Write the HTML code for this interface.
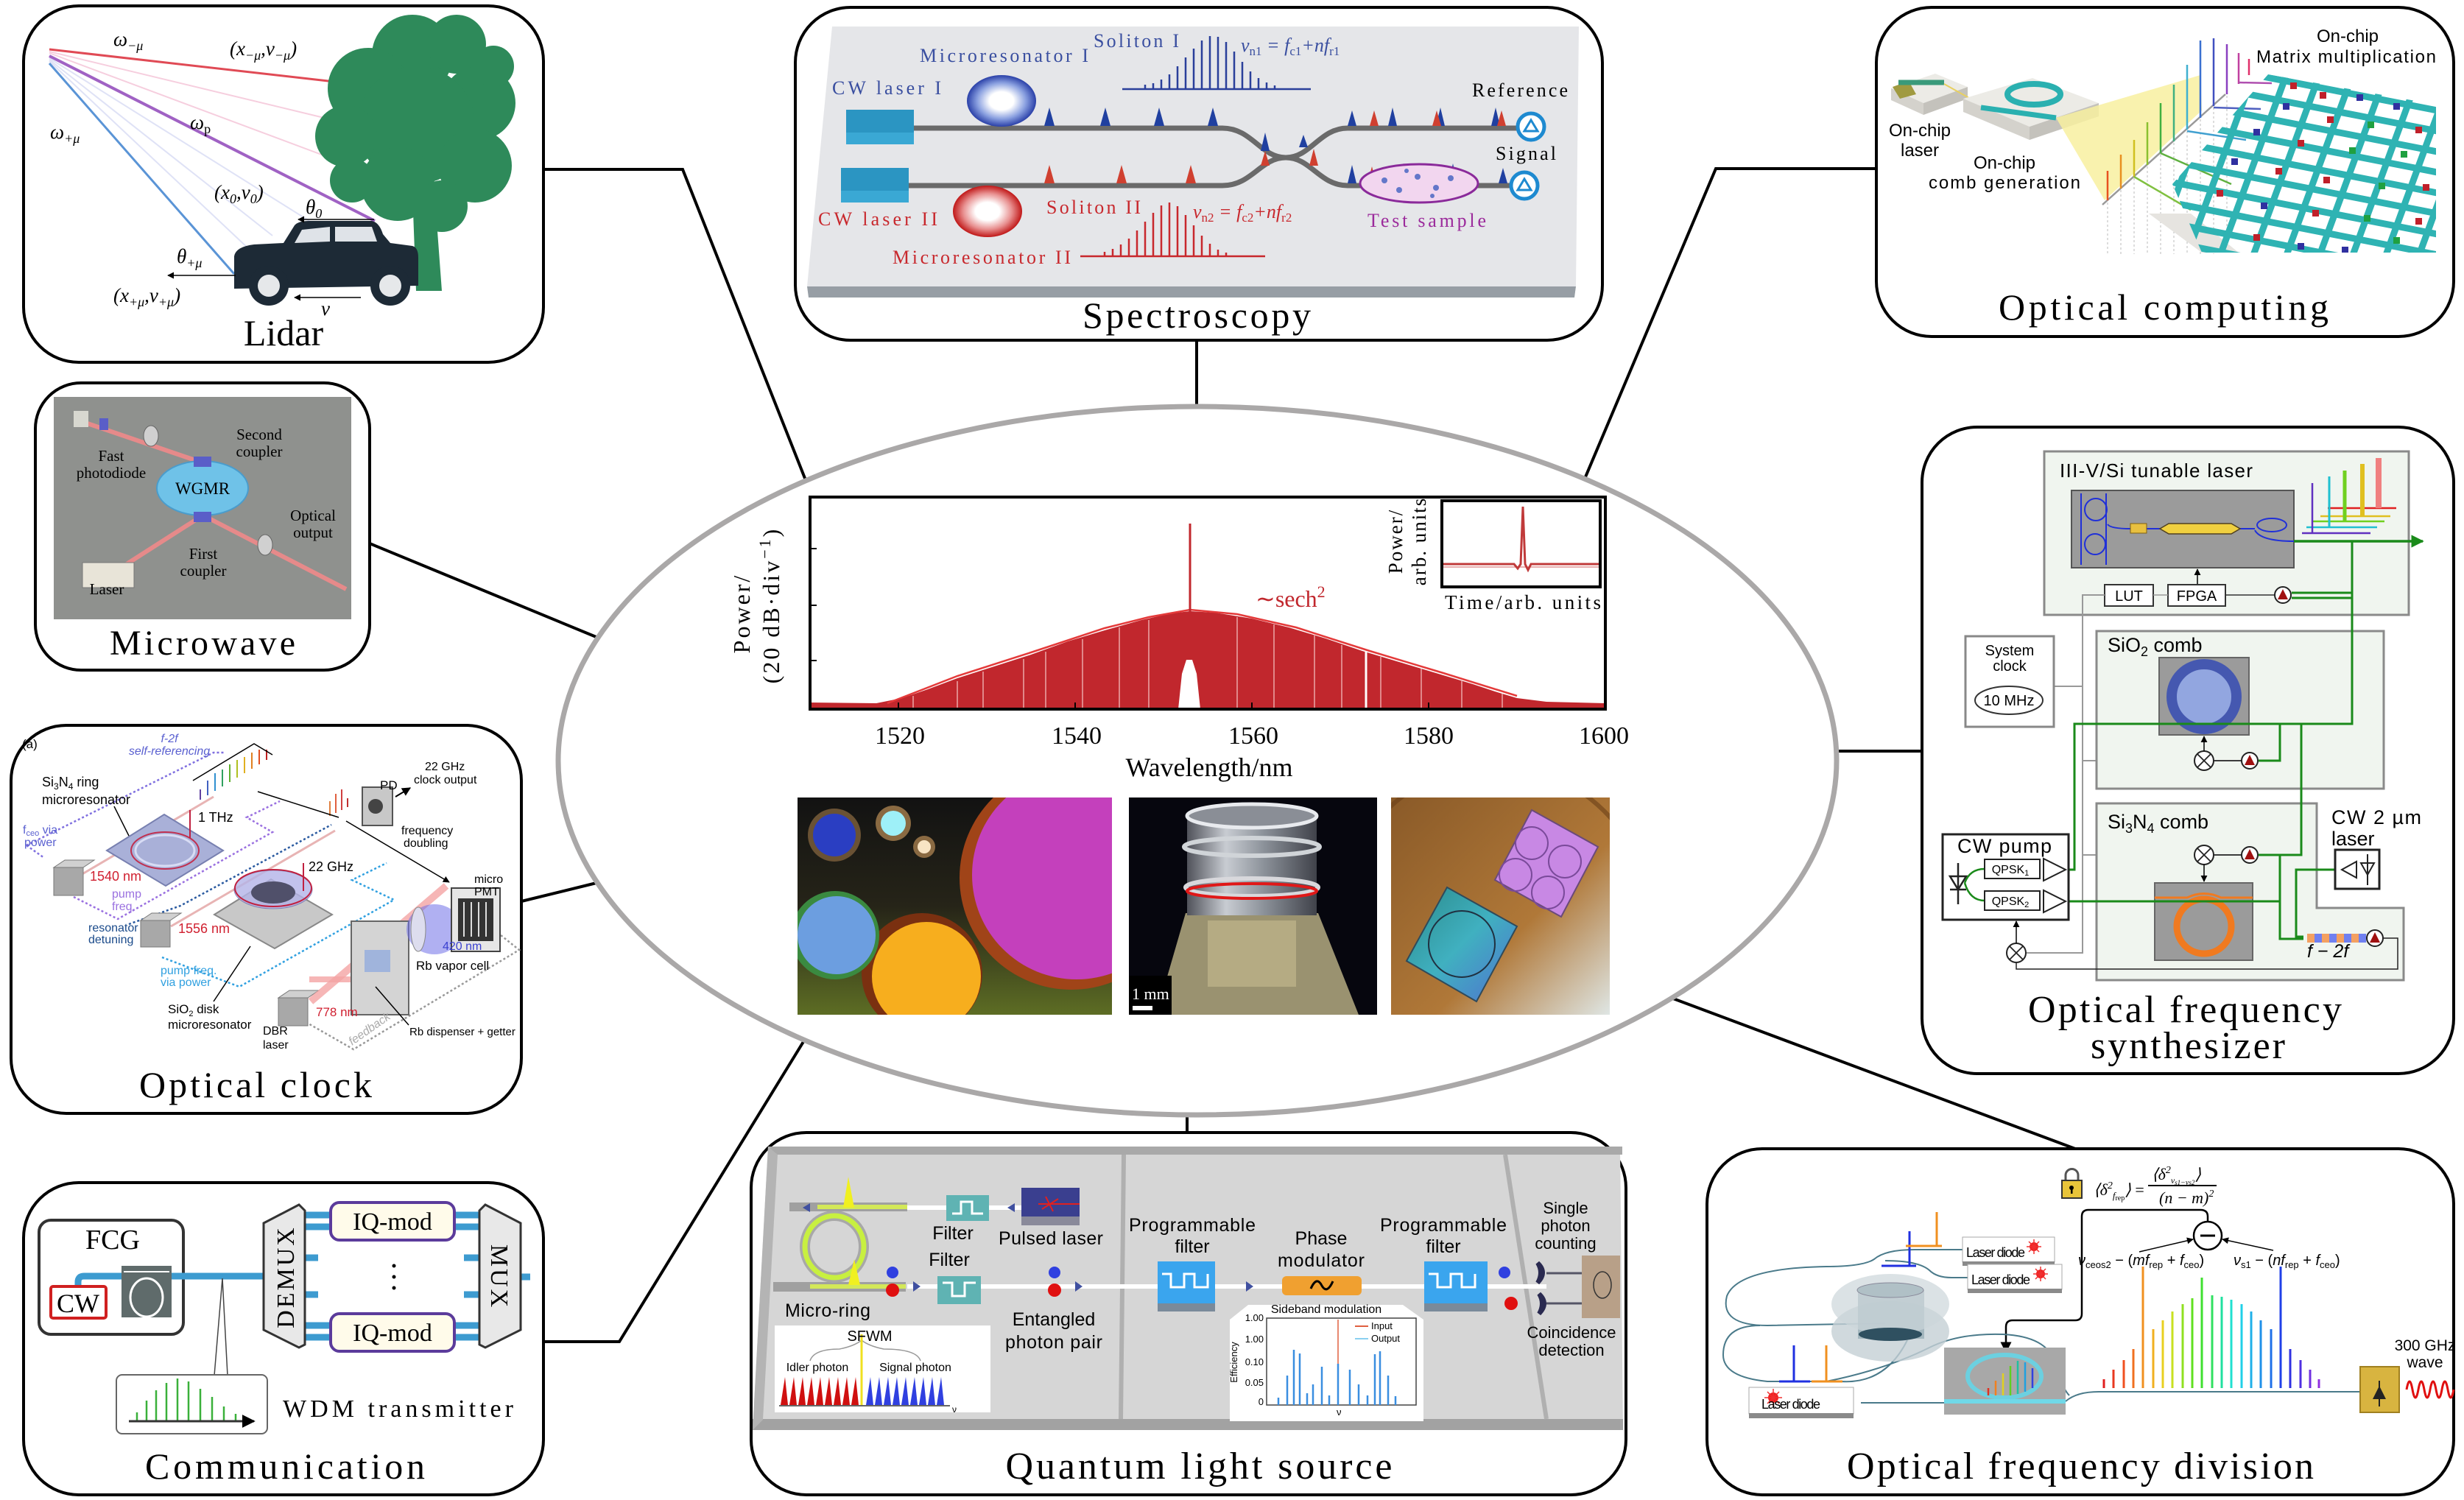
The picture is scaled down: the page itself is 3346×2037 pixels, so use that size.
<!DOCTYPE html>
<html><head><meta charset="utf-8"><style>
html,body{margin:0;padding:0;background:#fff}
svg{display:block}
.sf{font-family:"Liberation Serif",serif}
.ss{font-family:"Liberation Sans",sans-serif}
</style></head><body>
<svg xmlns="http://www.w3.org/2000/svg" width="3346" height="2037" viewBox="0 0 3346 2037">
<defs>
<marker id="ah" viewBox="0 0 10 10" refX="9" refY="5" markerWidth="6" markerHeight="6" orient="auto"><path d="M0,0 L10,5 L0,10 z" fill="#000"/></marker>
<marker id="ahg" viewBox="0 0 10 10" refX="9" refY="5" markerWidth="5" markerHeight="5" orient="auto"><path d="M0,0 L10,5 L0,10 z" fill="#1a8a1a"/></marker>
<linearGradient id="p1bg" x1="0" y1="0" x2="0" y2="1"><stop offset="0" stop-color="#121212"/><stop offset=".5" stop-color="#262418"/><stop offset="1" stop-color="#5d6d24"/></linearGradient>
<linearGradient id="p3bg" x1="0" y1="0" x2="1" y2="1"><stop offset="0" stop-color="#8a5a28"/><stop offset=".6" stop-color="#b07838"/><stop offset="1" stop-color="#dfe6e4"/></linearGradient>
<linearGradient id="teal" x1="0" y1="0" x2="1" y2="1"><stop offset="0" stop-color="#2a8a8a"/><stop offset=".5" stop-color="#40b0c0"/><stop offset="1" stop-color="#5070d0"/></linearGradient>
<linearGradient id="glass" x1="0" y1="0" x2="1" y2="0"><stop offset="0" stop-color="#50525a"/><stop offset=".3" stop-color="#c8ccd2"/><stop offset=".6" stop-color="#8a9098"/><stop offset="1" stop-color="#40424a"/></linearGradient>
<radialGradient id="mr1"><stop offset=".35" stop-color="#fff"/><stop offset=".7" stop-color="#8aa0e0"/><stop offset="1" stop-color="#2a40a8"/></radialGradient>
<radialGradient id="mr2"><stop offset=".35" stop-color="#fff"/><stop offset=".7" stop-color="#e89090"/><stop offset="1" stop-color="#c01818"/></radialGradient>
<clipPath id="c1"><rect x="1083" y="1083" width="427" height="295"/></clipPath>
<clipPath id="c2"><rect x="1533" y="1083" width="337" height="295"/></clipPath>
<clipPath id="c3"><rect x="1889" y="1083" width="297" height="295"/></clipPath>
<clipPath id="cg"><polygon points="3080,101 3308,142 3308,343 2990,343 2950,250"/></clipPath>
</defs>
<rect width="3346" height="2037" fill="#fff"/>

<!-- connectors -->
<g stroke="#000" stroke-width="4" fill="none">
<polyline points="738,230 927,230 1094,652"/>
<line x1="502" y1="738" x2="812" y2="866"/>
<line x1="708" y1="1224" x2="814" y2="1198"/>
<polyline points="738,1822 841,1822 1092,1413"/>
<line x1="1625" y1="462" x2="1625" y2="552"/>
<polyline points="2548,229 2330,229 2152,650"/>
<line x1="2495" y1="1020" x2="2610" y2="1020"/>
<line x1="1612" y1="1514" x2="1612" y2="1540"/>
<line x1="2818" y1="1560" x2="2272" y2="1356"/>
</g>

<!-- central ellipse -->
<ellipse cx="1626" cy="1033" rx="868" ry="481" fill="#fff" stroke="#aaa8a8" stroke-width="7"/>

<!-- main plot -->
<path d="M1100,962 L1100,954 L1190,955 L1225,948 L1260,936 L1300,921 L1350,905 L1400,889 L1450,871 L1500,856 L1550,842 L1590,833 L1616,830 L1650,832 L1700,840 L1750,852 L1800,867 L1850,884 L1900,899 L1950,914 L2000,929 L2030,939 L2060,948 L2100,953 L2180,955 L2180,962 Z" fill="#c1272d"/>
<g stroke="#e9a0a0" stroke-width="2" opacity=".8">
<line x1="1240" y1="945" x2="1240" y2="962"/><line x1="1300" y1="925" x2="1300" y2="962"/><line x1="1335" y1="912" x2="1335" y2="962"/>
<line x1="1390" y1="895" x2="1390" y2="962"/><line x1="1420" y1="885" x2="1420" y2="962"/><line x1="1470" y1="868" x2="1470" y2="962"/>
<line x1="1520" y1="852" x2="1520" y2="962"/><line x1="1560" y1="842" x2="1560" y2="962"/><line x1="1680" y1="838" x2="1680" y2="962"/>
<line x1="1730" y1="848" x2="1730" y2="962"/><line x1="1785" y1="862" x2="1785" y2="962"/><line x1="1822" y1="876" x2="1822" y2="962"/>
<line x1="1875" y1="892" x2="1875" y2="962"/><line x1="1930" y1="908" x2="1930" y2="962"/><line x1="1985" y1="925" x2="1985" y2="962"/>
<line x1="2040" y1="942" x2="2040" y2="962"/>
</g>
<line x1="1855" y1="880" x2="1855" y2="962" stroke="#fff" stroke-width="3"/>
<polyline points="1205,955 1300,918 1400,886 1500,853 1560,838 1616,828 1680,834 1760,852 1860,884 1960,914 2060,945" fill="none" stroke="#e43a3a" stroke-width="2.5"/>
<path d="M1600,963 L1605,915 L1611,896 L1619,896 L1625,915 L1630,963 Z" fill="#fff"/>
<line x1="1616" y1="832" x2="1616" y2="711" stroke="#c1272d" stroke-width="3"/>
<rect x="1100" y="675" width="1080" height="288" fill="none" stroke="#000" stroke-width="4"/>
<g stroke="#000" stroke-width="2">
<line x1="1220" y1="963" x2="1220" y2="954"/><line x1="1460" y1="963" x2="1460" y2="954"/><line x1="1700" y1="963" x2="1700" y2="954"/><line x1="1940" y1="963" x2="1940" y2="954"/>
<line x1="1100" y1="745" x2="1109" y2="745"/><line x1="1100" y1="822" x2="1109" y2="822"/><line x1="1100" y1="897" x2="1109" y2="897"/>
</g>
<g class="sf" font-size="34" text-anchor="middle" fill="#000">
<text x="1222" y="1010">1520</text><text x="1462" y="1010">1540</text><text x="1702" y="1010">1560</text><text x="1940" y="1010">1580</text><text x="2178" y="1010">1600</text>
<text x="1642" y="1054" font-size="36">Wavelength/nm</text>
<text transform="translate(1018,833) rotate(-90)" font-size="32" letter-spacing="3">Power/</text>
<text transform="translate(1058,822) rotate(-90)" font-size="32" letter-spacing="3">(20 dB·div<tspan font-size="22" dy="-12">−1</tspan><tspan dy="12">)</tspan></text>
</g>
<text x="1705" y="824" class="sf" font-size="32" fill="#c1272d">∼sech<tspan font-size="22" dy="-13">2</tspan></text>
<rect x="1958" y="680" width="215" height="117" fill="#fff" stroke="#000" stroke-width="4"/>
<line x1="1960" y1="770" x2="2171" y2="770" stroke="#e8b0b0" stroke-width="2"/>
<path d="M1960,766 L2056,766 L2061,772 L2065,766 L2068,688 L2071,766 L2075,774 L2079,766 L2171,766" fill="none" stroke="#c03a3a" stroke-width="3"/>
<g class="sf" font-size="27" text-anchor="middle">
<text x="2068" y="827" textLength="212">Time/arb. units</text>
<text transform="translate(1904,735) rotate(-90)" letter-spacing="2">Power/</text>
<text transform="translate(1936,735) rotate(-90)" letter-spacing="2">arb. units</text>
</g>

<!-- photos -->
<rect x="1083" y="1083" width="427" height="295" fill="url(#p1bg)"/>
<g clip-path="url(#c1)">
<circle cx="1455" cy="1192" r="152" fill="#a04418"/><circle cx="1462" cy="1188" r="142" fill="#c440bc"/>
<circle cx="1252" cy="1322" r="82" fill="#7a3010"/><circle cx="1258" cy="1326" r="74" fill="#f7ae1e"/>
<circle cx="1134" cy="1270" r="60" fill="#3a8a40"/><circle cx="1136" cy="1270" r="53" fill="#6c9ee0"/>
<circle cx="1133" cy="1134" r="36" fill="#6a5234"/><circle cx="1133" cy="1134" r="29" fill="#2a3ec2"/>
<circle cx="1213" cy="1118" r="24" fill="#8a6a42"/><circle cx="1213" cy="1118" r="17" fill="#9ef0f8"/>
<circle cx="1255" cy="1150" r="15" fill="#8a6a42"/><circle cx="1255" cy="1150" r="9" fill="#f8e4c4"/>
</g>
<rect x="1533" y="1083" width="337" height="295" fill="#06060e"/>
<g clip-path="url(#c2)">
<polygon points="1610,1240 1790,1240 1845,1378 1570,1378" fill="#9a9270"/>
<rect x="1612" y="1108" width="176" height="135" fill="url(#glass)"/>
<ellipse cx="1700" cy="1108" rx="88" ry="16" fill="#8a8e96" stroke="#e8eaee" stroke-width="5"/>
<ellipse cx="1700" cy="1150" rx="92" ry="12" fill="none" stroke="#d0d4d8" stroke-width="6"/>
<ellipse cx="1700" cy="1205" rx="90" ry="12" fill="none" stroke="#d8d8dc" stroke-width="6"/>
<ellipse cx="1700" cy="1210" rx="88" ry="10" fill="none" stroke="#e01818" stroke-width="4"/>
<rect x="1640" y="1250" width="120" height="90" fill="#c8bc90" opacity=".6"/>
</g>
<rect x="1533" y="1325" width="58" height="53" fill="#000"/>
<text x="1537" y="1357" class="sf" font-size="22" fill="#fff">1 mm</text>
<rect x="1538" y="1366" width="27" height="6" fill="#fff"/>
<rect x="1889" y="1083" width="297" height="295" fill="url(#p3bg)"/>
<g clip-path="url(#c3)">
<circle cx="2030" cy="1250" r="210" fill="none" stroke="#6a4018" stroke-width="6" opacity=".6"/>
<polygon points="2080,1100 2170,1150 2120,1245 2030,1195" fill="#c888e4" stroke="#6a4a7a" stroke-width="2"/>
<circle cx="2080" cy="1145" r="22" fill="none" stroke="#7a4a9a" stroke-width="2"/><circle cx="2125" cy="1170" r="22" fill="none" stroke="#7a4a9a" stroke-width="2"/>
<circle cx="2058" cy="1188" r="22" fill="none" stroke="#7a4a9a" stroke-width="2"/><circle cx="2102" cy="1212" r="22" fill="none" stroke="#7a4a9a" stroke-width="2"/>
<polygon points="1965,1205 2060,1258 2005,1360 1910,1305" fill="url(#teal)" stroke="#304a5a" stroke-width="2"/>
<circle cx="1985" cy="1282" r="45" fill="none" stroke="#203040" stroke-width="2"/>
</g>

<!-- ============ LIDAR ============ -->
<rect x="32" y="8" width="706" height="484" rx="75" fill="#fff" stroke="#000" stroke-width="4"/>
<g fill="none">
<line x1="67" y1="70" x2="440" y2="160" stroke="#f6cede" stroke-width="2"/>
<line x1="67" y1="72" x2="450" y2="215" stroke="#f6cede" stroke-width="2"/>
<line x1="67" y1="79" x2="420" y2="300" stroke="#dfe2f6" stroke-width="2"/>
<line x1="67" y1="81" x2="370" y2="320" stroke="#dfe2f6" stroke-width="2"/>
<line x1="67" y1="83" x2="340" y2="340" stroke="#dfe2f6" stroke-width="2"/>
<line x1="67" y1="67" x2="472" y2="113" stroke="#e04a55" stroke-width="3"/>
<line x1="67" y1="76" x2="509" y2="300" stroke="#a062c4" stroke-width="4"/>
<line x1="67" y1="86" x2="318" y2="372" stroke="#5a94d6" stroke-width="3"/>
</g>
<g fill="#2e8a5a">
<circle cx="560" cy="75" r="55"/><circle cx="620" cy="60" r="40"/><circle cx="500" cy="120" r="55"/><circle cx="650" cy="140" r="50"/>
<circle cx="565" cy="170" r="80"/><circle cx="470" cy="185" r="42"/><circle cx="645" cy="225" r="50"/><circle cx="540" cy="250" r="50"/>
<circle cx="600" cy="280" r="35"/><circle cx="478" cy="245" r="30"/><circle cx="670" cy="90" r="28"/>
<polygon points="560,260 590,260 600,395 565,395"/>
</g>
<path d="M318,392 L318,348 Q320,335 345,332 L385,330 L400,306 Q405,300 420,300 L505,300 Q515,302 520,318 L530,330 L560,334 Q568,336 568,350 L568,388 Z" fill="#1d2a36"/>
<polygon points="410,312 448,308 448,328 400,330" fill="#dfe3e8"/><polygon points="455,308 505,308 512,328 455,328" fill="#dfe3e8"/>
<circle cx="365" cy="388" r="27" fill="#1d2a36"/><circle cx="365" cy="388" r="15" fill="#e6e8ea"/>
<circle cx="530" cy="388" r="27" fill="#1d2a36"/><circle cx="530" cy="388" r="15" fill="#e6e8ea"/>
<g stroke="#000" stroke-width="1.5" fill="none">
<line x1="320" y1="374" x2="228" y2="374" marker-end="url(#ah)"/>
<line x1="490" y1="404" x2="400" y2="404" marker-end="url(#ah)"/>
<line x1="508" y1="298" x2="405" y2="298" marker-end="url(#ah)"/>
</g>
<g class="sf" font-size="27" font-style="italic">
<text x="154" y="62">ω<tspan font-size="18" dy="6">−μ</tspan></text>
<text x="312" y="75">(x<tspan font-size="18" dy="6">−μ</tspan><tspan dy="-6">,v</tspan><tspan font-size="18" dy="6">−μ</tspan><tspan dy="-6">)</tspan></text>
<text x="258" y="175">ω<tspan font-size="18" dy="6" font-style="normal">p</tspan></text>
<text x="68" y="188">ω<tspan font-size="18" dy="6">+μ</tspan></text>
<text x="291" y="270">(x<tspan font-size="18" dy="6">0</tspan><tspan dy="-6">,v</tspan><tspan font-size="18" dy="6">0</tspan><tspan dy="-6">)</tspan></text>
<text x="415" y="290">θ<tspan font-size="18" dy="6">0</tspan></text>
<text x="240" y="357">θ<tspan font-size="18" dy="6">+μ</tspan></text>
<text x="154" y="410">(x<tspan font-size="18" dy="6">+μ</tspan><tspan dy="-6">,v</tspan><tspan font-size="18" dy="6">+μ</tspan><tspan dy="-6">)</tspan></text>
<text x="436" y="428">v</text>
</g>
<text x="385" y="469" class="sf" font-size="50" text-anchor="middle">Lidar</text>

<!-- ============ MICROWAVE ============ -->
<rect x="48" y="520" width="454" height="390" rx="62" fill="#fff" stroke="#000" stroke-width="4"/>
<rect x="73" y="539" width="404" height="302" fill="#8f918e"/>
<g stroke="#f08a8a" stroke-width="6" opacity=".9">
<line x1="110" y1="572" x2="268" y2="626"/>
<line x1="150" y1="780" x2="272" y2="702"/>
<line x1="280" y1="702" x2="470" y2="800"/>
</g>
<ellipse cx="275" cy="663" rx="62" ry="37" fill="#6fc2e8" stroke="#4a9ccc" stroke-width="2"/>
<rect x="263" y="620" width="24" height="14" fill="#5a5ec8"/><rect x="263" y="695" width="24" height="14" fill="#5a5ec8"/>
<rect x="100" y="558" width="20" height="22" fill="#d8d8d0"/><rect x="135" y="568" width="12" height="16" fill="#5a5ec8"/>
<ellipse cx="205" cy="592" rx="10" ry="14" fill="#d0d0d0" stroke="#666"/><ellipse cx="360" cy="740" rx="10" ry="14" fill="#d0d0d0" stroke="#666"/>
<rect x="112" y="764" width="70" height="34" fill="#e8e4d8" stroke="#777"/>
<g class="sf" font-size="21" text-anchor="middle">
<text x="352" y="597">Second</text><text x="352" y="620">coupler</text>
<text x="151" y="626">Fast</text><text x="151" y="649">photodiode</text>
<text x="275" y="671" font-size="23">WGMR</text>
<text x="425" y="707">Optical</text><text x="425" y="730">output</text>
<text x="276" y="759">First</text><text x="276" y="782">coupler</text>
<text x="145" y="807">Laser</text>
</g>
<text x="275" y="889" class="sf" font-size="48" text-anchor="middle" textLength="252">Microwave</text>

<!-- ============ OPTICAL CLOCK ============ -->
<rect x="15" y="985" width="693" height="527" rx="75" fill="#fff" stroke="#000" stroke-width="4"/>
<g fill="none" stroke-width="2.5" stroke-dasharray="3,3">
<polyline points="36,1148 60,1165" stroke="#8070e0"/>
<polyline points="36,1148 290,1022 305,1022" stroke="#8070e0"/>
<polyline points="100,1218 160,1248 370,1130 335,1110 380,1088" stroke="#9a70e0"/>
<polyline points="175,1255 245,1230 450,1120" stroke="#2a5aa0"/>
<polyline points="220,1300 325,1340 535,1222 478,1195 525,1172" stroke="#30a0e0"/>
<polyline points="410,1385 480,1425 705,1290 680,1270" stroke="#999"/>
</g>
<g stroke="#e8b4b4" stroke-width="3">
<line x1="110" y1="1188" x2="290" y2="1082"/><line x1="232" y1="1258" x2="455" y2="1128"/>
</g>
<polygon points="145,1155 223,1106 303,1155 225,1203" fill="#a9b0d8" stroke="#7880b0" stroke-width="2"/>
<ellipse cx="224" cy="1155" rx="46" ry="25" fill="none" stroke="#c03050" stroke-width="2"/>
<ellipse cx="224" cy="1155" rx="40" ry="21" fill="none" stroke="#d8dcf4" stroke-width="3"/>
<polygon points="291,1242 368,1194 451,1242 373,1288" fill="#c8c8c8" stroke="#888" stroke-width="2"/>
<ellipse cx="371" cy="1208" rx="53" ry="26" fill="#b4b4e8" opacity=".8" stroke="#7070b0"/>
<ellipse cx="371" cy="1212" rx="30" ry="15" fill="#50506a"/>
<ellipse cx="371" cy="1206" rx="52" ry="25" fill="none" stroke="#c02040" stroke-width="2"/>
<line x1="258" y1="1138" x2="258" y2="1100" stroke="#c02040" stroke-width="2"/>
<line x1="412" y1="1210" x2="412" y2="1172" stroke="#c02040" stroke-width="2"/>
<g fill="#a8a8a8" stroke="#777">
<rect x="73" y="1178" width="40" height="38"/><polygon points="73,1178 88,1168 128,1168 113,1178" fill="#d0d0d0"/>
<rect x="191" y="1250" width="40" height="36"/><polygon points="191,1250 206,1240 246,1240 231,1250" fill="#d0d0d0"/>
<rect x="378" y="1355" width="40" height="38"/><polygon points="378,1355 393,1345 433,1345 418,1355" fill="#d0d0d0"/>
</g>
<g stroke-width="2">
<line x1="272" y1="1086" x2="272" y2="1072" stroke="#6040a0"/><line x1="282" y1="1080" x2="282" y2="1060" stroke="#4060c0"/>
<line x1="292" y1="1074" x2="292" y2="1050" stroke="#3090d0"/><line x1="302" y1="1068" x2="302" y2="1045" stroke="#30a060"/>
<line x1="312" y1="1062" x2="312" y2="1038" stroke="#60b030"/><line x1="322" y1="1056" x2="322" y2="1032" stroke="#b0c020"/>
<line x1="332" y1="1050" x2="332" y2="1028" stroke="#e0b020"/><line x1="342" y1="1044" x2="342" y2="1022" stroke="#e08020"/>
<line x1="352" y1="1038" x2="352" y2="1018" stroke="#e05020"/><line x1="362" y1="1032" x2="362" y2="1018" stroke="#c02020"/>
<line x1="448" y1="1108" x2="448" y2="1088" stroke="#e08040"/><line x1="456" y1="1104" x2="456" y2="1078" stroke="#e06040"/>
<line x1="464" y1="1100" x2="464" y2="1072" stroke="#d04040"/><line x1="472" y1="1096" x2="472" y2="1084" stroke="#c03030"/>
</g>
<polyline points="262,1060 345,1010 370,1025" fill="none" stroke="#000" stroke-width="1.5"/>
<line x1="350" y1="1075" x2="460" y2="1110" stroke="#000" stroke-width="1.5"/>
<line x1="470" y1="1115" x2="610" y2="1198" stroke="#000" stroke-width="1.5" marker-end="url(#ah)"/>
<rect x="492" y="1069" width="41" height="52" fill="#c8c8c8" stroke="#555" stroke-width="2"/>
<circle cx="510" cy="1095" r="10" fill="#444"/>
<line x1="537" y1="1082" x2="557" y2="1070" stroke="#000" stroke-width="2" marker-end="url(#ah)"/>
<line x1="422" y1="1360" x2="606" y2="1203" stroke="#f4a4a4" stroke-width="10" opacity=".8"/>
<line x1="420" y1="1330" x2="500" y2="1330" stroke="#f4a4a4" stroke-width="8" opacity=".8"/>
<rect x="477" y="1251" width="78" height="127" fill="#d4d4d4" stroke="#666" stroke-width="2"/>
<rect x="495" y="1290" width="35" height="30" fill="#a0b4dc"/>
<ellipse cx="590" cy="1262" rx="38" ry="34" fill="#7070e8" opacity=".55"/>
<ellipse cx="568" cy="1262" rx="10" ry="30" fill="#dde" stroke="#888"/>
<rect x="613" y="1206" width="66" height="86" fill="#e6e6e6" stroke="#444" stroke-width="2"/>
<rect x="622" y="1220" width="48" height="58" fill="#333"/>
<g stroke="#ddd" stroke-width="2"><line x1="630" y1="1225" x2="630" y2="1272"/><line x1="640" y1="1225" x2="640" y2="1272"/><line x1="650" y1="1225" x2="650" y2="1272"/><line x1="660" y1="1225" x2="660" y2="1272"/></g>
<g class="ss" font-size="16" fill="#000">
<text x="30" y="1016" font-size="17">(a)</text>
<text x="230" y="1008" fill="#5a60d0" font-style="italic" text-anchor="middle">f-2f</text>
<text x="230" y="1025" fill="#5a60d0" font-style="italic" text-anchor="middle">self-referencing</text>
<text x="57" y="1068" font-size="18">Si<tspan font-size="12" dy="4">3</tspan><tspan dy="-4">N</tspan><tspan font-size="12" dy="4">4</tspan><tspan dy="-4"> ring</tspan></text>
<text x="57" y="1092" font-size="18">microresonator</text>
<text x="269" y="1116" font-size="18">1 THz</text>
<text x="577" y="1046">22 GHz</text><text x="562" y="1064">clock output</text>
<text x="516" y="1072" font-size="17">PD</text>
<text x="31" y="1132" fill="#5a60d0">f<tspan font-size="11" dy="3">ceo</tspan><tspan dy="-3"> via</tspan></text>
<text x="33" y="1149" fill="#5a60d0">power</text>
<text x="122" y="1196" fill="#d02030" font-size="18">1540 nm</text>
<text x="152" y="1219" fill="#9a70e0">pump</text><text x="152" y="1236" fill="#9a70e0">freq.</text>
<text x="419" y="1183" font-size="18">22 GHz</text>
<text x="545" y="1133">frequency</text><text x="548" y="1150">doubling</text>
<text x="644" y="1199">micro</text><text x="644" y="1216">PMT</text>
<text x="120" y="1265" fill="#1a4a8a">resonator</text><text x="120" y="1281" fill="#1a4a8a">detuning</text>
<text x="242" y="1267" fill="#d02030" font-size="18">1556 nm</text>
<text x="601" y="1290" fill="#3a40d0">420 nm</text>
<text x="565" y="1317" font-size="17">Rb vapor cell</text>
<text x="218" y="1323" fill="#30a0e0">pump freq.</text><text x="218" y="1339" fill="#30a0e0">via power</text>
<text x="228" y="1376" font-size="17">SiO<tspan font-size="11" dy="4">2</tspan><tspan dy="-4"> disk</tspan></text>
<text x="228" y="1397" font-size="17">microresonator</text>
<text x="357" y="1405">DBR</text><text x="357" y="1424">laser</text>
<text x="429" y="1380" fill="#d02030" font-size="17">778 nm</text>
<text transform="translate(478,1420) rotate(-35)" fill="#aaa" font-style="italic">feedback</text>
<text x="556" y="1406" font-size="15">Rb dispenser + getter</text>
</g>
<line x1="155" y1="1095" x2="175" y2="1135" stroke="#000" stroke-width="1.5"/>
<line x1="290" y1="1360" x2="340" y2="1285" stroke="#000" stroke-width="1.5"/>
<line x1="555" y1="1392" x2="510" y2="1340" stroke="#000" stroke-width="1.5"/>
<text x="347" y="1490" class="sf" font-size="50" text-anchor="middle" textLength="316">Optical clock</text>

<!-- ============ COMMUNICATION ============ -->
<rect x="32" y="1606" width="706" height="424" rx="75" fill="#fff" stroke="#000" stroke-width="4"/>
<rect x="53" y="1657" width="196" height="155" rx="16" fill="#fff" stroke="#333" stroke-width="4"/>
<text x="153" y="1696" class="sf" font-size="38" text-anchor="middle">FCG</text>
<path d="M106,1748 V1741 Q106,1733 114,1733 H168" stroke="#3d9bd0" stroke-width="9" fill="none"/>
<rect x="165" y="1719" width="68" height="70" fill="#5f6b6b"/>
<ellipse cx="199" cy="1762" rx="22" ry="26" fill="none" stroke="#fff" stroke-width="3"/>
<line x1="168" y1="1727" x2="230" y2="1727" stroke="#fff" stroke-width="2"/>
<rect x="69" y="1747" width="75" height="43" rx="3" fill="#fff" stroke="#d02020" stroke-width="4"/>
<text x="106" y="1782" class="sf" font-size="36" text-anchor="middle">CW</text>
<line x1="233" y1="1733" x2="360" y2="1733" stroke="#3d9bd0" stroke-width="9"/>
<g stroke="#3d9bd0" stroke-width="9">
<line x1="414" y1="1650" x2="450" y2="1650"/><line x1="414" y1="1666" x2="450" y2="1666"/>
<line x1="414" y1="1800" x2="450" y2="1800"/><line x1="414" y1="1816" x2="450" y2="1816"/>
<line x1="414" y1="1708" x2="432" y2="1708"/><line x1="414" y1="1758" x2="432" y2="1758"/>
<line x1="616" y1="1650" x2="650" y2="1650"/><line x1="616" y1="1666" x2="650" y2="1666"/>
<line x1="616" y1="1800" x2="650" y2="1800"/><line x1="616" y1="1816" x2="650" y2="1816"/>
<line x1="630" y1="1708" x2="650" y2="1708"/><line x1="630" y1="1758" x2="650" y2="1758"/>
<line x1="706" y1="1734" x2="720" y2="1734"/>
</g>
<polygon points="358,1661 406,1636 414,1644 414,1826 406,1830 358,1806" fill="#e8e8e8" stroke="#333" stroke-width="3"/>
<polygon points="707,1661 659,1636 651,1644 651,1826 659,1830 707,1806" fill="#e8e8e8" stroke="#333" stroke-width="3"/>
<text transform="translate(399,1734) rotate(-90)" class="sf" font-size="34" text-anchor="middle" letter-spacing="3">DEMUX</text>
<text transform="translate(667,1734) rotate(90)" class="sf" font-size="34" text-anchor="middle" letter-spacing="3">MUX</text>
<rect x="449" y="1633" width="168" height="51" rx="12" fill="#fffbea" stroke="#5b3b9b" stroke-width="4"/>
<rect x="449" y="1784" width="168" height="51" rx="12" fill="#fffbea" stroke="#5b3b9b" stroke-width="4"/>
<text x="533" y="1670" class="sf" font-size="34" text-anchor="middle">IQ-mod</text>
<text x="533" y="1821" class="sf" font-size="34" text-anchor="middle">IQ-mod</text>
<circle cx="535" cy="1719" r="2.5"/><circle cx="535" cy="1734" r="2.5"/><circle cx="535" cy="1749" r="2.5"/>
<polyline points="291,1868 302,1736 309,1868" fill="none" stroke="#444" stroke-width="1.5"/>
<rect x="158" y="1867" width="205" height="80" rx="8" fill="#fff" stroke="#666" stroke-width="2"/>
<g stroke="#3ab03a" stroke-width="2.5">
<line x1="186" y1="1930" x2="186" y2="1918"/><line x1="199" y1="1930" x2="199" y2="1902"/><line x1="212" y1="1930" x2="212" y2="1888"/>
<line x1="226" y1="1930" x2="226" y2="1878"/><line x1="241" y1="1930" x2="241" y2="1872"/><line x1="256" y1="1930" x2="256" y2="1876"/>
<line x1="272" y1="1930" x2="272" y2="1886"/><line x1="288" y1="1930" x2="288" y2="1897"/><line x1="304" y1="1930" x2="304" y2="1910"/>
<line x1="320" y1="1930" x2="320" y2="1920"/>
</g>
<line x1="175" y1="1930" x2="345" y2="1930" stroke="#333" stroke-width="3" marker-end="url(#ah)"/>
<text x="384" y="1924" class="sf" font-size="34" textLength="313">WDM transmitter</text>
<text x="387" y="2008" class="sf" font-size="50" text-anchor="middle" textLength="380">Communication</text>

<!-- ============ SPECTROSCOPY ============ -->
<rect x="1080" y="10" width="1096" height="452" rx="75" fill="#fff" stroke="#000" stroke-width="4"/>
<polygon points="1130,36 2144,36 2140,389 1096,389" fill="#e5e6e9"/>
<polygon points="1096,389 2140,389 2138,404 1098,404" fill="#979ea5"/>
<path d="M1241,174 H1660 C1700,174 1712,214 1746,214 C1780,214 1792,174 1830,174 H2062" fill="none" stroke="#6a6a6a" stroke-width="7"/>
<path d="M1234,252 H1660 C1700,252 1712,214 1746,214 C1780,214 1792,252 1830,252 H2062" fill="none" stroke="#6a6a6a" stroke-width="7"/>
<rect x="1149" y="149" width="92" height="47" fill="#2b95c2"/><rect x="1149" y="180" width="92" height="16" fill="#3aa8d4"/>
<rect x="1142" y="228" width="92" height="47" fill="#2b95c2"/><rect x="1142" y="259" width="92" height="16" fill="#3aa8d4"/>
<ellipse cx="1360" cy="137" rx="47" ry="35" fill="url(#mr1)"/>
<ellipse cx="1341" cy="287" rx="47" ry="35" fill="url(#mr2)"/>
<g fill="#2040a0">
<polygon points="1418,171 1425,146 1432,171"/><polygon points="1494,171 1501,146 1508,171"/><polygon points="1567,171 1574,146 1581,171"/><polygon points="1640,171 1647,146 1654,171"/>
<polygon points="1712,205 1718,180 1724,205"/><polygon points="1764,200 1770,183 1776,200"/>
<polygon points="1830,171 1836,150 1842,171"/><polygon points="1885,171 1891,146 1897,171"/><polygon points="1950,171 1956,146 1962,171"/><polygon points="2025,171 2031,146 2037,171"/>
<polygon points="1830,249 1836,224 1842,249"/><polygon points="1900,249 1906,222 1912,249"/><polygon points="1967,249 1973,222 1979,249"/><polygon points="2035,249 2041,228 2047,249"/>
</g>
<g fill="#d04030">
<polygon points="1418,249 1425,224 1432,249"/><polygon points="1516,249 1523,224 1530,249"/><polygon points="1610,249 1617,224 1624,249"/>
<polygon points="1712,225 1718,205 1724,225"/><polygon points="1778,225 1784,202 1790,225"/>
<polygon points="1860,171 1866,150 1872,171"/><polygon points="1945,171 1951,150 1957,171"/><polygon points="2033,171 2039,150 2045,171"/>
<polygon points="1857,249 1863,226 1869,249"/><polygon points="1960,249 1966,226 1972,249"/>
</g>
<ellipse cx="1927" cy="249" rx="80" ry="26" fill="#f2d6ef" stroke="#8a2a9a" stroke-width="3"/>
<g fill="#4060c0" opacity=".8"><circle cx="1880" cy="245" r="4"/><circle cx="1900" cy="258" r="4"/><circle cx="1925" cy="240" r="4"/><circle cx="1950" cy="255" r="4"/><circle cx="1970" cy="242" r="4"/><circle cx="1910" cy="232" r="3"/><circle cx="1945" cy="266" r="3"/></g>
<circle cx="2079" cy="172" r="18" fill="#fff" stroke="#1e8ad0" stroke-width="5"/><path d="M2070,178 L2079,163 L2088,178 Z" fill="none" stroke="#1e8ad0" stroke-width="3"/>
<circle cx="2070" cy="252" r="18" fill="#fff" stroke="#1e8ad0" stroke-width="5"/><path d="M2061,258 L2070,243 L2079,258 Z" fill="none" stroke="#1e8ad0" stroke-width="3"/>
<g stroke="#2a3f9a" stroke-width="2.5">
<line x1="1524" y1="121" x2="1780" y2="121"/>
<line x1="1555" y1="121" x2="1555" y2="115"/><line x1="1566" y1="121" x2="1566" y2="113"/><line x1="1577" y1="121" x2="1577" y2="108"/><line x1="1588" y1="121" x2="1588" y2="101"/>
<line x1="1599" y1="121" x2="1599" y2="90"/><line x1="1610" y1="121" x2="1610" y2="78"/><line x1="1621" y1="121" x2="1621" y2="66"/><line x1="1632" y1="121" x2="1632" y2="55"/>
<line x1="1643" y1="121" x2="1643" y2="49"/><line x1="1654" y1="121" x2="1654" y2="50"/><line x1="1665" y1="121" x2="1665" y2="57"/><line x1="1676" y1="121" x2="1676" y2="70"/>
<line x1="1687" y1="121" x2="1687" y2="84"/><line x1="1698" y1="121" x2="1698" y2="97"/><line x1="1709" y1="121" x2="1709" y2="106"/><line x1="1720" y1="121" x2="1720" y2="112"/><line x1="1731" y1="121" x2="1731" y2="116"/>
</g>
<g stroke="#c8282d" stroke-width="2.5">
<line x1="1467" y1="348" x2="1718" y2="348"/>
<line x1="1500" y1="348" x2="1500" y2="342"/><line x1="1511" y1="348" x2="1511" y2="338"/><line x1="1522" y1="348" x2="1522" y2="332"/><line x1="1533" y1="348" x2="1533" y2="324"/>
<line x1="1544" y1="348" x2="1544" y2="313"/><line x1="1555" y1="348" x2="1555" y2="301"/><line x1="1566" y1="348" x2="1566" y2="289"/><line x1="1577" y1="348" x2="1577" y2="279"/>
<line x1="1588" y1="348" x2="1588" y2="275"/><line x1="1599" y1="348" x2="1599" y2="280"/><line x1="1610" y1="348" x2="1610" y2="292"/><line x1="1621" y1="348" x2="1621" y2="306"/>
<line x1="1632" y1="348" x2="1632" y2="320"/><line x1="1643" y1="348" x2="1643" y2="331"/><line x1="1654" y1="348" x2="1654" y2="339"/><line x1="1665" y1="348" x2="1665" y2="343"/>
</g>
<g class="sf" font-size="26">
<text x="1249" y="84" fill="#3a4fa0" textLength="229">Microresonator I</text>
<text x="1485" y="64" fill="#3a4fa0" textLength="116">Soliton I</text>
<text x="1685" y="70" fill="#3a4fa0" font-style="italic">ν<tspan font-size="17" dy="5" font-style="normal">n1</tspan><tspan dy="-5"> = f</tspan><tspan font-size="17" dy="5" font-style="normal">c1</tspan><tspan dy="-5">+nf</tspan><tspan font-size="17" dy="5" font-style="normal">r1</tspan></text>
<text x="1130" y="128" fill="#3a4fa0" textLength="148">CW laser I</text>
<text x="1999" y="131" fill="#000" textLength="130">Reference</text>
<text x="2031" y="217" fill="#000" textLength="82">Signal</text>
<text x="1111" y="306" fill="#c8282d" textLength="162">CW laser II</text>
<text x="1421" y="290" fill="#c8282d" textLength="128">Soliton II</text>
<text x="1620" y="296" fill="#c8282d" font-style="italic">ν<tspan font-size="17" dy="5" font-style="normal">n2</tspan><tspan dy="-5"> = f</tspan><tspan font-size="17" dy="5" font-style="normal">c2</tspan><tspan dy="-5">+nf</tspan><tspan font-size="17" dy="5" font-style="normal">r2</tspan></text>
<text x="1857" y="308" fill="#9b2a9b" textLength="161">Test sample</text>
<text x="1212" y="358" fill="#c8282d" textLength="242">Microresonator II</text>
</g>
<text x="1625" y="445" class="sf" font-size="50" text-anchor="middle" textLength="310">Spectroscopy</text>

<!-- ============ OPTICAL COMPUTING ============ -->
<rect x="2548" y="10" width="784" height="447" rx="75" fill="#fff" stroke="#000" stroke-width="4"/>
<polygon points="2568,120 2628,100 2672,118 2612,140" fill="#ecebe6"/>
<polygon points="2568,120 2612,140 2612,156 2568,136" fill="#d4d2cc"/><polygon points="2612,140 2672,118 2672,134 2612,156" fill="#c4c2bc"/>
<polygon points="2570,118 2592,110 2602,128 2580,134" fill="#a09a40"/>
<line x1="2578" y1="112" x2="2640" y2="112" stroke="#3a9a7a" stroke-width="7"/>
<line x1="2640" y1="114" x2="2690" y2="142" stroke="#e8d060" stroke-width="2"/>
<polygon points="2666,134 2760,106 2850,140 2756,172" fill="#ecebe6"/>
<polygon points="2666,134 2756,172 2756,190 2666,152" fill="#d4d2cc"/><polygon points="2756,172 2850,140 2850,158 2756,190" fill="#c4c2bc"/>
<ellipse cx="2762" cy="128" rx="36" ry="14" fill="none" stroke="#2ab0b0" stroke-width="8"/>
<line x1="2690" y1="146" x2="2792" y2="160" stroke="#2ab0b0" stroke-width="7"/>
<polygon points="2792,160 2988,102 2990,150 2858,272" fill="#f8f0a0" opacity=".85"/>
<g stroke="#bbb" stroke-width="1" stroke-dasharray="3,3">
<line x1="2862" y1="275" x2="2862" y2="345"/><line x1="2880" y1="258" x2="2880" y2="345"/><line x1="2898" y1="242" x2="2898" y2="345"/><line x1="2916" y1="226" x2="2916" y2="345"/>
<line x1="2934" y1="210" x2="2934" y2="345"/><line x1="2952" y1="194" x2="2952" y2="345"/><line x1="2970" y1="178" x2="2970" y2="345"/><line x1="2988" y1="162" x2="2988" y2="345"/>
<line x1="3006" y1="146" x2="3006" y2="345"/><line x1="3024" y1="130" x2="3024" y2="345"/>
</g>
<g stroke-width="2.5">
<line x1="2855" y1="278" x2="3022" y2="128" stroke="#999"/>
<line x1="2862" y1="272" x2="2862" y2="232" stroke="#e85020"/><line x1="2880" y1="256" x2="2880" y2="210" stroke="#e89020"/>
<line x1="2898" y1="240" x2="2898" y2="190" stroke="#d0c020"/><line x1="2916" y1="224" x2="2916" y2="166" stroke="#8ac030"/>
<line x1="2934" y1="208" x2="2934" y2="140" stroke="#40b040"/><line x1="2952" y1="192" x2="2952" y2="115" stroke="#40b080"/>
<line x1="2970" y1="176" x2="2970" y2="88" stroke="#40b0d0"/><line x1="2988" y1="160" x2="2988" y2="55" stroke="#3a70d0"/>
<line x1="3006" y1="144" x2="3006" y2="52" stroke="#4050c0"/><line x1="3024" y1="128" x2="3024" y2="60" stroke="#8a40c0"/>
<line x1="3040" y1="114" x2="3040" y2="72" stroke="#c040a0"/><line x1="3054" y1="102" x2="3054" y2="80" stroke="#e0306a"/>
<line x1="3040" y1="112" x2="3085" y2="113" stroke="#b050b0"/><line x1="3006" y1="146" x2="3070" y2="148" stroke="#5060c0"/>
<line x1="2970" y1="178" x2="3050" y2="190" stroke="#40a0d0"/><line x1="2934" y1="208" x2="3030" y2="250" stroke="#60b040"/>
<line x1="2898" y1="240" x2="2975" y2="285" stroke="#80c040"/>
</g>
<polygon points="2918,290 2975,290 3040,343 2990,343" fill="#e6e4e0"/>
<g clip-path="url(#cg)" stroke="#2fb3b3" stroke-width="9">
<line x1="2950" y1="80" x2="3320" y2="152"/><line x1="2930" y1="104" x2="3320" y2="180"/><line x1="2910" y1="128" x2="3320" y2="208"/>
<line x1="2890" y1="152" x2="3320" y2="236"/><line x1="2870" y1="176" x2="3320" y2="264"/><line x1="2850" y1="200" x2="3320" y2="292"/>
<line x1="2830" y1="224" x2="3320" y2="320"/><line x1="2810" y1="248" x2="3320" y2="348"/><line x1="2790" y1="272" x2="3320" y2="376"/>
<line x1="2800" y1="300" x2="3320" y2="402"/>
<line x1="3030" y1="60" x2="2920" y2="360"/><line x1="3075" y1="60" x2="2965" y2="360"/><line x1="3120" y1="60" x2="3010" y2="360"/>
<line x1="3165" y1="60" x2="3055" y2="360"/><line x1="3210" y1="60" x2="3100" y2="360"/><line x1="3255" y1="60" x2="3145" y2="360"/>
<line x1="3300" y1="60" x2="3190" y2="360"/><line x1="3345" y1="60" x2="3235" y2="360"/><line x1="3390" y1="60" x2="3280" y2="360"/>
</g>
<g clip-path="url(#cg)">
<rect x="3110" y="112" width="9" height="9" fill="#c0202a"/><rect x="3150" y="125" width="9" height="9" fill="#c0202a"/><rect x="3200" y="128" width="9" height="9" fill="#3030a0"/>
<rect x="3250" y="140" width="9" height="9" fill="#3030a0"/><rect x="3100" y="140" width="9" height="9" fill="#3030a0"/><rect x="3160" y="158" width="9" height="9" fill="#c0202a"/>
<rect x="3215" y="165" width="9" height="9" fill="#20a040"/><rect x="3280" y="172" width="9" height="9" fill="#c0202a"/><rect x="3060" y="175" width="9" height="9" fill="#3030a0"/>
<rect x="3120" y="190" width="9" height="9" fill="#c0202a"/><rect x="3190" y="200" width="9" height="9" fill="#20a040"/><rect x="3260" y="205" width="9" height="9" fill="#20a040"/>
<rect x="3030" y="215" width="9" height="9" fill="#3030a0"/><rect x="3090" y="228" width="9" height="9" fill="#c0202a"/><rect x="3155" y="240" width="9" height="9" fill="#c0202a"/>
<rect x="3230" y="248" width="9" height="9" fill="#20a040"/><rect x="3290" y="250" width="9" height="9" fill="#c0202a"/><rect x="3010" y="258" width="9" height="9" fill="#c0202a"/>
<rect x="3070" y="275" width="9" height="9" fill="#3030a0"/><rect x="3140" y="285" width="9" height="9" fill="#c0202a"/><rect x="3210" y="292" width="9" height="9" fill="#20a040"/>
<rect x="3280" y="296" width="9" height="9" fill="#c0202a"/><rect x="3060" y="318" width="9" height="9" fill="#c0202a"/><rect x="3120" y="330" width="9" height="9" fill="#3030a0"/>
<rect x="3250" y="322" width="9" height="9" fill="#20a040"/><rect x="3180" y="335" width="9" height="9" fill="#3030a0"/>
</g>
<g class="ss" font-size="24" text-anchor="middle">
<text x="3188" y="57">On-chip</text><text x="3186" y="85" textLength="244">Matrix multiplication</text>
<text x="2607" y="185">On-chip</text><text x="2607" y="212">laser</text>
<text x="2722" y="229">On-chip</text><text x="2722" y="256" textLength="206">comb generation</text>
</g>
<text x="2938" y="434" class="sf" font-size="50" text-anchor="middle" textLength="448">Optical computing</text>

<!-- ============ OFS ============ -->
<rect x="2610" y="580" width="722" height="878" rx="75" fill="#fff" stroke="#000" stroke-width="4"/>
<rect x="2776" y="613" width="495" height="222" fill="#f0f5ef" stroke="#8a8a8a" stroke-width="3"/>
<text x="2797" y="648" class="ss" font-size="26" textLength="262">III-V/Si tunable laser</text>
<rect x="2813" y="666" width="302" height="105" fill="#9b9b9b" stroke="#555" stroke-width="2"/>
<g stroke="#2030d8" stroke-width="2" fill="none">
<circle cx="2846" cy="692" r="15"/><circle cx="2845" cy="739" r="14"/>
<line x1="2826" y1="670" x2="2826" y2="767"/><line x1="2860" y1="670" x2="2860" y2="767"/>
<path d="M2862,712 Q2866,718 2893,718"/><line x1="2915" y1="718" x2="2933" y2="718"/><line x1="3042" y1="718" x2="3062" y2="718"/>
<ellipse cx="3085" cy="713" rx="20" ry="9"/><path d="M3062,720 Q3070,735 3115,735"/>
</g>
<rect x="2893" y="711" width="22" height="13" fill="#e8c040" stroke="#806010"/>
<polygon points="2933,718 2945,711 3030,711 3042,718 3030,725 2945,725" fill="#f0d040" stroke="#504020" stroke-width="1.5"/>
<line x1="3115" y1="735" x2="3290" y2="735" stroke="#1a8a1a" stroke-width="3.5" marker-end="url(#ahg)"/>
<g stroke-width="2.5">
<line x1="3126" y1="724" x2="3219" y2="724" stroke="#6030c0"/><line x1="3132" y1="716" x2="3228" y2="716" stroke="#20c0d0"/>
<line x1="3141" y1="708" x2="3238" y2="708" stroke="#70d020"/><line x1="3151" y1="701" x2="3246" y2="701" stroke="#e0c020"/>
<line x1="3161" y1="690" x2="3254" y2="690" stroke="#e02020"/>
<line x1="3140" y1="724" x2="3140" y2="656" stroke="#6030c0"/><line x1="3163" y1="716" x2="3163" y2="647" stroke="#20c0d0" stroke-width="3"/>
<line x1="3184" y1="708" x2="3184" y2="639" stroke="#70d020" stroke-width="5"/><line x1="3208" y1="701" x2="3208" y2="630" stroke="#e0c020" stroke-width="6"/>
<line x1="3230" y1="690" x2="3230" y2="622" stroke="#f08080" stroke-width="8"/>
</g>
<rect x="2858" y="794" width="66" height="29" fill="#fff" stroke="#333" stroke-width="2"/>
<rect x="2944" y="794" width="78" height="29" fill="#fff" stroke="#333" stroke-width="2"/>
<g class="ss" font-size="20" text-anchor="middle"><text x="2891" y="816">LUT</text><text x="2983" y="816">FPGA</text></g>
<line x1="2984" y1="793" x2="2984" y2="773" stroke="#000" stroke-width="1.5" marker-end="url(#ah)"/>
<line x1="2924" y1="808" x2="2944" y2="808" stroke="#999" stroke-width="1.5"/>
<line x1="3022" y1="808" x2="3090" y2="808" stroke="#333" stroke-width="1.5"/>
<g stroke="#999" stroke-width="2" fill="none">
<polyline points="2858,808 2828,808 2828,1294 2752,1294"/>
<line x1="2789" y1="932" x2="2828" y2="932"/>
<line x1="2828" y1="1033" x2="2980" y2="1033"/>
<line x1="2828" y1="1161" x2="2980" y2="1161"/>
</g>
<rect x="2669" y="864" width="120" height="123" fill="#fff" stroke="#888" stroke-width="3"/>
<g class="ss" font-size="20" text-anchor="middle"><text x="2729" y="890">System</text><text x="2729" y="911">clock</text></g>
<ellipse cx="2728" cy="951" rx="46" ry="19" fill="#fff" stroke="#333" stroke-width="2"/>
<text x="2728" y="958" class="ss" font-size="20" text-anchor="middle">10 MHz</text>
<rect x="2847" y="857" width="390" height="214" fill="#f0f5ef" stroke="#8a8a8a" stroke-width="3"/>
<text x="2862" y="885" class="ss" font-size="27">SiO<tspan font-size="18" dy="6">2</tspan><tspan dy="-6"> comb</tspan></text>
<rect x="2932" y="893" width="122" height="105" fill="#9b9b9b" stroke="#666" stroke-width="2"/>
<circle cx="2993" cy="946" r="44" fill="#92a6e0" stroke="#4558b0" stroke-width="14"/>
<polygon points="2847,1091 3146,1091 3146,1233 3264,1233 3264,1331 2847,1331" fill="#f0f5ef" stroke="#8a8a8a" stroke-width="3"/>
<text x="2862" y="1125" class="ss" font-size="27">Si<tspan font-size="18" dy="6">3</tspan><tspan dy="-6">N</tspan><tspan font-size="18" dy="6">4</tspan><tspan dy="-6"> comb</tspan></text>
<rect x="2926" y="1199" width="133" height="105" fill="#9b9b9b" stroke="#666" stroke-width="2"/>
<path d="M2926,1219 H2970 Q2993,1208 3016,1219 H3059" fill="none" stroke="#f07a20" stroke-width="3"/>
<circle cx="2993" cy="1258" r="37" fill="none" stroke="#f07a20" stroke-width="9"/>
<g stroke="#1a8a1a" stroke-width="3" fill="none">
<polyline points="3194,735 3194,983 2817,983 2817,1181 2805,1181"/>
<polyline points="3112,805 3194,805"/><polyline points="3112,812 3194,812"/>
<polyline points="3096,983 3096,1033 3067,1033"/>
<polyline points="3125,983 3125,1161 3067,1161"/>
<polyline points="2805,1224 3096,1224 3096,1161"/>
<polyline points="3096,1224 3096,1275 3128,1275"/>
<polyline points="3171,1181 3118,1181 3118,1272 3128,1272"/>
</g>
<g fill="#fff" stroke="#222" stroke-width="2">
<circle cx="3100" cy="808" r="11"/><circle cx="3055" cy="1033" r="11"/><circle cx="3055" cy="1161" r="11"/><circle cx="3225" cy="1274" r="11"/>
<circle cx="2993" cy="1033" r="13"/><circle cx="2993" cy="1161" r="13"/><circle cx="2738" cy="1294" r="13"/>
</g>
<g fill="#a01010"><polygon points="3093,814 3100,800 3107,814"/><polygon points="3048,1039 3055,1025 3062,1039"/><polygon points="3048,1167 3055,1153 3062,1167"/><polygon points="3218,1280 3225,1266 3232,1280"/></g>
<g stroke="#222" stroke-width="1.8">
<line x1="2984" y1="1024" x2="3002" y2="1042"/><line x1="3002" y1="1024" x2="2984" y2="1042"/>
<line x1="2984" y1="1152" x2="3002" y2="1170"/><line x1="3002" y1="1152" x2="2984" y2="1170"/>
<line x1="2729" y1="1285" x2="2747" y2="1303"/><line x1="2747" y1="1285" x2="2729" y2="1303"/>
<line x1="3006" y1="1033" x2="3044" y2="1033"/><line x1="3006" y1="1161" x2="3044" y2="1161"/>
</g>
<line x1="2993" y1="1020" x2="2993" y2="1000" stroke="#000" stroke-width="1.5" marker-end="url(#ah)"/>
<line x1="2993" y1="1174" x2="2993" y2="1197" stroke="#000" stroke-width="1.5" marker-end="url(#ah)"/>
<line x1="2738" y1="1281" x2="2738" y2="1251" stroke="#000" stroke-width="1.5" marker-end="url(#ah)"/>
<polyline points="3236,1274 3256,1274 3256,1316 2738,1316 2738,1307" fill="none" stroke="#222" stroke-width="1.5"/>
<g><rect x="3133" y="1268" width="80" height="12" fill="#f4a060"/>
<rect x="3143" y="1268" width="10" height="12" fill="#7080f0"/><rect x="3163" y="1268" width="10" height="12" fill="#7080f0"/><rect x="3183" y="1268" width="10" height="12" fill="#7080f0"/><rect x="3203" y="1268" width="10" height="12" fill="#7080f0"/></g>
<text x="3133" y="1300" class="ss" font-size="25" font-style="italic">f − 2f</text>
<rect x="2638" y="1133" width="171" height="116" fill="#fff" stroke="#222" stroke-width="3"/>
<text x="2658" y="1158" class="ss" font-size="27" textLength="128">CW pump</text>
<g stroke="#222" stroke-width="2.5" fill="none">
<line x1="2659" y1="1172" x2="2659" y2="1228"/><polygon points="2648,1190 2670,1190 2659,1208"/><line x1="2648" y1="1208" x2="2670" y2="1208"/>
</g>
<path d="M2668,1199 Q2675,1180 2695,1180 M2668,1199 Q2675,1223 2695,1223" fill="none" stroke="#1a8a1a" stroke-width="2.5"/>
<rect x="2695" y="1167" width="75" height="26" fill="#fff" stroke="#222" stroke-width="2"/>
<rect x="2695" y="1210" width="75" height="26" fill="#fff" stroke="#222" stroke-width="2"/>
<g class="ss" font-size="16" text-anchor="middle"><text x="2730" y="1186">QPSK<tspan font-size="11" dy="3">1</tspan></text><text x="2730" y="1229">QPSK<tspan font-size="11" dy="3">2</tspan></text></g>
<polygon points="2775,1166 2775,1196 2805,1181" fill="#fff" stroke="#222" stroke-width="2"/>
<polygon points="2775,1209 2775,1239 2805,1224" fill="#fff" stroke="#222" stroke-width="2"/>
<rect x="3171" y="1154" width="60" height="53" fill="#fff" stroke="#222" stroke-width="3"/>
<g stroke="#222" stroke-width="2" fill="none"><polygon points="3200,1170 3200,1192 3180,1181"/><line x1="3215" y1="1160" x2="3215" y2="1202"/><polygon points="3206,1172 3224,1172 3215,1188"/></g>
<g class="ss" font-size="27"><text x="3166" y="1119" textLength="122">CW 2 µm</text><text x="3166" y="1148">laser</text></g>
<text x="2968" y="1388" class="sf" font-size="52" text-anchor="middle" textLength="428" letter-spacing="2">Optical frequency</text>
<text x="2972" y="1437" class="sf" font-size="52" text-anchor="middle" textLength="266" letter-spacing="2">synthesizer</text>

<!-- ============ QUANTUM ============ -->
<rect x="1020" y="1538" width="1188" height="492" rx="75" fill="#fff" stroke="#000" stroke-width="4"/>
<polygon points="1043,1557 2200,1557 2204,1942 1022,1942" fill="#d6d6d6"/>
<rect x="1043" y="1557" width="1160" height="11" fill="#a9a9a9"/>
<rect x="1022" y="1927" width="1182" height="15" fill="#a2a2a2"/>
<polygon points="1043,1557 1056,1568 1036,1928 1022,1942" fill="#b4b4b4"/>
<line x1="1526" y1="1568" x2="1522" y2="1927" stroke="#b0b0b0" stroke-width="6"/>
<line x1="2044" y1="1568" x2="2100" y2="1927" stroke="#b0b0b0" stroke-width="6"/>
<rect x="1072" y="1633" width="160" height="12" fill="#a0a0a0"/><rect x="1110" y="1636" width="122" height="6" fill="#d8f050" opacity=".9"/>
<rect x="1050" y="1741" width="180" height="13" fill="#a0a0a0"/><rect x="1100" y="1744" width="130" height="6" fill="#d8f050" opacity=".9"/>
<ellipse cx="1133" cy="1693" rx="40" ry="42" fill="none" stroke="#a8a8a8" stroke-width="14"/>
<ellipse cx="1133" cy="1693" rx="40" ry="42" fill="none" stroke="#c8f040" stroke-width="7"/>
<polygon points="1145,1640 1152,1598 1160,1640" fill="#f0f020"/><polygon points="1152,1745 1160,1710 1168,1745" fill="#f0f020"/>
<line x1="1232" y1="1640" x2="1387" y2="1640" stroke="#fff" stroke-width="6"/>
<line x1="1232" y1="1747" x2="2100" y2="1747" stroke="#fff" stroke-width="6"/>
<rect x="1285" y="1623" width="58" height="35" fill="#5fb3b3"/><path d="M1293,1648 H1305 V1632 H1320 V1648 H1335" fill="none" stroke="#fff" stroke-width="3"/>
<rect x="1273" y="1733" width="59" height="38" fill="#5fb3b3"/><path d="M1280,1742 H1293 V1760 H1310 V1742 H1325" fill="none" stroke="#fff" stroke-width="3"/>
<rect x="1387" y="1613" width="79" height="51" fill="#3a3f8f"/><rect x="1387" y="1652" width="79" height="12" fill="#8a8a9a"/>
<path d="M1420,1625 L1430,1645 M1410,1635 L1440,1635 M1415,1642 L1437,1628" stroke="#e02020" stroke-width="2"/>
<line x1="1430" y1="1635" x2="1466" y2="1635" stroke="#e02020" stroke-width="2"/>
<circle cx="1212" cy="1728" r="8" fill="#3040e0"/><circle cx="1212" cy="1752" r="9" fill="#e01010"/>
<circle cx="1432" cy="1728" r="8" fill="#3040e0"/><circle cx="1432" cy="1752" r="9" fill="#e01010"/>
<g fill="#4050a0"><polygon points="1240,1740 1250,1747 1240,1754"/><polygon points="1460,1740 1470,1747 1460,1754"/><polygon points="1692,1740 1702,1747 1692,1754"/><polygon points="1378,1634 1368,1640 1378,1646"/><polygon points="1100,1634 1090,1640 1100,1646"/></g>
<rect x="1572" y="1713" width="78" height="68" fill="#3aa5ee"/><rect x="1572" y="1770" width="78" height="11" fill="#7a8a9a"/>
<path d="M1578,1730 H1590 V1748 H1608 V1730 H1622 V1748 H1640 V1730" fill="none" stroke="#fff" stroke-width="3"/>
<rect x="1741" y="1733" width="108" height="26" rx="6" fill="#f0a030"/>
<path d="M1780,1750 Q1788,1732 1795,1746 Q1802,1758 1810,1740" fill="none" stroke="#000" stroke-width="3"/>
<rect x="1934" y="1713" width="86" height="68" fill="#3aa5ee"/><rect x="1934" y="1770" width="86" height="11" fill="#7a8a9a"/>
<path d="M1940,1730 H1952 V1748 H1970 V1730 H1985 V1748 H2003 V1730" fill="none" stroke="#fff" stroke-width="3"/>
<circle cx="2043" cy="1728" r="8" fill="#3040e0"/><circle cx="2052" cy="1770" r="9" fill="#e01010"/>
<path d="M2088,1715 Q2102,1728 2088,1742 Q2096,1728 2088,1715 Z" fill="#2a2a50" stroke="#2a2a50" stroke-width="6"/>
<path d="M2090,1757 Q2104,1770 2090,1784 Q2098,1770 2090,1757 Z" fill="#2a2a50" stroke="#2a2a50" stroke-width="6"/>
<line x1="2100" y1="1729" x2="2150" y2="1729" stroke="#556" stroke-width="3"/><line x1="2100" y1="1770" x2="2150" y2="1770" stroke="#556" stroke-width="3"/>
<rect x="2148" y="1705" width="52" height="85" fill="#b8a088"/><ellipse cx="2176" cy="1745" rx="12" ry="18" fill="none" stroke="#333" stroke-width="1.5"/>
<rect x="1052" y="1800" width="293" height="118" fill="#fff"/>
<path d="M1100,1848 Q1105,1832 1140,1832 Q1160,1828 1170,1820 Q1180,1828 1200,1832 Q1245,1832 1250,1848" fill="none" stroke="#999" stroke-width="1.5"/>
<g fill="#d01010">
<polygon points="1060,1908 1066,1870 1070,1908"/><polygon points="1072,1908 1078,1870 1082,1908"/><polygon points="1084,1908 1090,1870 1094,1908"/><polygon points="1096,1908 1102,1870 1106,1908"/>
<polygon points="1108,1908 1114,1870 1118,1908"/><polygon points="1120,1908 1126,1870 1130,1908"/><polygon points="1132,1908 1138,1870 1142,1908"/><polygon points="1144,1908 1150,1870 1154,1908"/><polygon points="1156,1908 1162,1870 1166,1908"/>
</g>
<g fill="#3040e0">
<polygon points="1176,1908 1182,1870 1186,1908"/><polygon points="1188,1908 1194,1870 1198,1908"/><polygon points="1200,1908 1206,1870 1210,1908"/><polygon points="1212,1908 1218,1870 1222,1908"/>
<polygon points="1224,1908 1230,1870 1234,1908"/><polygon points="1236,1908 1242,1870 1246,1908"/><polygon points="1248,1908 1254,1870 1258,1908"/><polygon points="1260,1908 1266,1870 1270,1908"/><polygon points="1272,1908 1278,1870 1282,1908"/>
</g>
<line x1="1170" y1="1812" x2="1170" y2="1908" stroke="#f0e020" stroke-width="3"/>
<line x1="1058" y1="1909" x2="1290" y2="1909" stroke="#333" stroke-width="1.5"/>
<g class="ss" text-anchor="middle"><text x="1181" y="1821" font-size="20">SFWM</text><text x="1110" y="1862" font-size="16">Idler photon</text><text x="1243" y="1862" font-size="16">Signal photon</text><text x="1296" y="1918" font-size="12">ν</text></g>
<polygon points="1695,1772 1905,1772 1933,1792 1933,1930 1670,1930 1670,1792" fill="#fff"/>
<rect x="1720" y="1790" width="203" height="118" fill="none" stroke="#444" stroke-width="1.5"/>
<g stroke="#3a8ee0" stroke-width="2.5">
<line x1="1736" y1="1908" x2="1736" y2="1898"/><line x1="1748" y1="1908" x2="1748" y2="1868"/><line x1="1757" y1="1908" x2="1757" y2="1833"/><line x1="1765" y1="1908" x2="1765" y2="1838"/>
<line x1="1775" y1="1908" x2="1775" y2="1892"/><line x1="1783" y1="1908" x2="1783" y2="1880"/><line x1="1795" y1="1908" x2="1795" y2="1856"/><line x1="1805" y1="1908" x2="1805" y2="1895"/>
<line x1="1817" y1="1908" x2="1817" y2="1852"/><line x1="1833" y1="1908" x2="1833" y2="1860"/><line x1="1845" y1="1908" x2="1845" y2="1880"/><line x1="1857" y1="1908" x2="1857" y2="1895"/>
<line x1="1867" y1="1908" x2="1867" y2="1839"/><line x1="1874" y1="1908" x2="1874" y2="1835"/><line x1="1885" y1="1908" x2="1885" y2="1868"/><line x1="1895" y1="1908" x2="1895" y2="1896"/>
</g>
<line x1="1817" y1="1792" x2="1817" y2="1852" stroke="#e06040" stroke-width="1.5"/>
<g class="ss" font-size="13" text-anchor="end"><text x="1716" y="1794">1.00</text><text x="1716" y="1823">1.00</text><text x="1716" y="1854">0.10</text><text x="1716" y="1882">0.05</text><text x="1716" y="1908">0</text></g>
<text transform="translate(1680,1850) rotate(-90)" class="ss" font-size="13" text-anchor="middle">Efficiency</text>
<g class="ss" font-size="13"><text x="1862" y="1805">Input</text><text x="1862" y="1822">Output</text><text x="1815" y="1922">ν</text></g>
<line x1="1840" y1="1801" x2="1858" y2="1801" stroke="#e06040" stroke-width="2"/><line x1="1840" y1="1818" x2="1858" y2="1818" stroke="#8ad0f0" stroke-width="2"/>
<text x="1801" y="1783" class="ss" font-size="16" text-anchor="middle">Sideband modulation</text>
<g class="ss" font-size="25" text-anchor="middle">
<text x="1294" y="1683">Filter</text><text x="1427" y="1690" textLength="142">Pulsed laser</text><text x="1289" y="1719">Filter</text>
<text x="1124" y="1788" textLength="116">Micro-ring</text>
<text x="1431" y="1800">Entangled</text><text x="1431" y="1831" textLength="132">photon pair</text>
<text x="1619" y="1672" textLength="172">Programmable</text><text x="1619" y="1701">filter</text>
<text x="1794" y="1690">Phase</text><text x="1794" y="1720" textLength="118">modulator</text>
<text x="1960" y="1672" textLength="172">Programmable</text><text x="1960" y="1701">filter</text>
</g>
<g class="ss" font-size="22" text-anchor="middle">
<text x="2126" y="1648">Single</text><text x="2126" y="1672">photon</text><text x="2126" y="1696">counting</text>
<text x="2134" y="1817">Coincidence</text><text x="2134" y="1841">detection</text>
</g>
<text x="1628" y="2008" class="sf" font-size="52" text-anchor="middle" textLength="525">Quantum light source</text>

<!-- ============ OFD ============ -->
<rect x="2318" y="1560" width="1014" height="470" rx="75" fill="#fff" stroke="#000" stroke-width="4"/>
<path d="M2805,1604 V1596 a8.5,8.5 0 0 1 17,0 V1604" fill="none" stroke="#555" stroke-width="3"/>
<rect x="2800" y="1603" width="27" height="24" fill="#e8c43a" stroke="#333" stroke-width="2"/>
<circle cx="2813" cy="1613" r="3" fill="#000"/><rect x="2812" y="1613" width="2.5" height="8" fill="#000"/>
<g class="sf" font-size="22" font-style="italic">
<text x="2843" y="1623">⟨δ<tspan font-size="14" dy="-9">2</tspan><tspan font-size="13" dy="14">f</tspan><tspan font-size="10" dy="2" font-style="normal">rep</tspan><tspan dy="-7">⟩</tspan><tspan font-style="normal"> =</tspan></text>
<text x="2922" y="1602">⟨δ<tspan font-size="14" dy="-9">2</tspan><tspan font-size="12" dy="14">ν</tspan><tspan font-size="9" dy="2">s1</tspan><tspan font-size="10">−ν</tspan><tspan font-size="9">s2</tspan><tspan dy="-7">⟩</tspan></text>
<text x="2932" y="1634">(n − m)<tspan font-size="14" dy="-9">2</tspan></text>
</g>
<line x1="2917" y1="1610" x2="3010" y2="1610" stroke="#000" stroke-width="2"/>
<path d="M2998,1659 V1652 Q2998,1643 2988,1643 H2836 Q2827,1643 2827,1652 V1784 Q2827,1793 2818,1793 H2733 Q2724,1793 2724,1802 V1836" fill="none" stroke="#000" stroke-width="2.5" marker-end="url(#ah)"/>
<circle cx="2998" cy="1678" r="19" fill="#fff" stroke="#000" stroke-width="2.5"/>
<line x1="2988" y1="1678" x2="3008" y2="1678" stroke="#000" stroke-width="3"/>
<line x1="2905" y1="1700" x2="2978" y2="1683" stroke="#000" stroke-width="1.5" marker-end="url(#ah)"/>
<line x1="3087" y1="1698" x2="3018" y2="1683" stroke="#000" stroke-width="1.5" marker-end="url(#ah)"/>
<g class="ss" font-size="20">
<text x="2822" y="1718"><tspan font-style="italic">ν</tspan><tspan font-size="13" dy="4">ceos2</tspan><tspan dy="-4"> − (</tspan><tspan font-style="italic">mf</tspan><tspan font-size="13" dy="4">rep</tspan><tspan dy="-4"> + </tspan><tspan font-style="italic">f</tspan><tspan font-size="13" dy="4">ceo</tspan><tspan dy="-4">)</tspan></text>
<text x="3033" y="1718"><tspan font-style="italic">ν</tspan><tspan font-size="13" dy="4">s1</tspan><tspan dy="-4"> − (</tspan><tspan font-style="italic">nf</tspan><tspan font-size="13" dy="4">rep</tspan><tspan dy="-4"> + </tspan><tspan font-style="italic">f</tspan><tspan font-size="13" dy="4">ceo</tspan><tspan dy="-4">)</tspan></text>
</g>
<g fill="none" stroke="#4a7a8a" stroke-width="2">
<path d="M2665,1697 H2600 Q2560,1697 2545,1710 Q2530,1720 2480,1720 Q2360,1722 2345,1760 Q2335,1800 2400,1800 L2560,1797"/>
<path d="M2672,1735 H2650 Q2630,1735 2620,1725 Q2605,1712 2560,1712"/>
<path d="M2590,1820 Q2560,1880 2500,1876 L2400,1876 Q2340,1870 2340,1840 Q2340,1800 2390,1800"/>
<path d="M2527,1905 H2640 M2480,1876 Q2560,1860 2620,1830 Q2660,1810 2720,1812 Q2780,1815 2790,1850 Q2800,1885 2810,1895"/>
<path d="M2805,1903 Q2820,1890 2850,1890 H3205"/>
</g>
<ellipse cx="2567" cy="1808" rx="80" ry="41" fill="#c4d0d4" opacity=".8"/>
<rect x="2523" y="1752" width="90" height="66" fill="#9cb0b8" opacity=".85"/>
<ellipse cx="2567" cy="1771" rx="80" ry="41" fill="#ccd6da" opacity=".7"/>
<ellipse cx="2567" cy="1752" rx="45" ry="10" fill="#b0c0c6" stroke="#889"/>
<ellipse cx="2567" cy="1812" rx="43" ry="9" fill="#2f5060"/>
<g>
<rect x="2665" y="1680" width="125" height="34" fill="#fff" stroke="#aaa"/><rect x="2665" y="1713" width="125" height="6" fill="#8a8a8a"/>
<rect x="2672" y="1717" width="128" height="34" fill="#fff" stroke="#aaa"/><rect x="2672" y="1750" width="128" height="6" fill="#8a8a8a"/>
<rect x="2375" y="1884" width="142" height="36" fill="#fff" stroke="#aaa"/><rect x="2375" y="1919" width="142" height="7" fill="#8a8a8a"/>
</g>
<g fill="#f02020"><circle cx="2762" cy="1693" r="6"/><circle cx="2771" cy="1730" r="6"/><circle cx="2408" cy="1898" r="7"/></g>
<g stroke="#f03030" stroke-width="1.5"><path d="M2752,1693 H2772 M2762,1683 V1703 M2755,1686 L2769,1700 M2769,1686 L2755,1700"/><path d="M2761,1730 H2781 M2771,1720 V1740 M2764,1723 L2778,1737 M2778,1723 L2764,1737"/><path d="M2396,1898 H2420 M2408,1886 V1910 M2400,1890 L2416,1906 M2416,1890 L2400,1906"/></g>
<g class="ss" font-size="18"><text x="2670" y="1707" textLength="80">Laser diode</text><text x="2677" y="1744" textLength="80">Laser diode</text><text x="2392" y="1913" textLength="80">Laser diode</text></g>
<g stroke-width="3" fill="none">
<path d="M2555,1719 H2602 M2593,1719 V1672" stroke="#2030e0"/><path d="M2588,1692 H2637 M2630,1692 V1646" stroke="#f09020"/>
<path d="M2416,1876 H2458 M2436,1876 V1827" stroke="#2030e0"/><path d="M2460,1876 H2502 M2480,1876 V1827" stroke="#f09020"/>
</g>
<rect x="2640" y="1830" width="165" height="91" fill="#a8a8a8"/>
<ellipse cx="2722" cy="1869" rx="50" ry="29" fill="none" stroke="#6cd0e0" stroke-width="6"/>
<g stroke-width="2.5"><line x1="2700" y1="1895" x2="2700" y2="1885" stroke="#e03020"/><line x1="2710" y1="1895" x2="2710" y2="1875" stroke="#f08020"/><line x1="2720" y1="1895" x2="2720" y2="1865" stroke="#e0d020"/><line x1="2730" y1="1895" x2="2730" y2="1855" stroke="#60d020"/><line x1="2740" y1="1893" x2="2740" y2="1848" stroke="#20c0a0"/><line x1="2750" y1="1890" x2="2750" y2="1850" stroke="#20a0e0"/><line x1="2760" y1="1885" x2="2760" y2="1858" stroke="#3040e0"/></g>
<line x1="2640" y1="1903" x2="2805" y2="1903" stroke="#70d8e8" stroke-width="6"/>
<g stroke-width="3">
<line x1="2857" y1="1885" x2="2857" y2="1873" stroke="#e02020"/><line x1="2870" y1="1885" x2="2870" y2="1860" stroke="#e83a20"/><line x1="2884" y1="1885" x2="2884" y2="1847" stroke="#f05020"/>
<line x1="2897" y1="1885" x2="2897" y2="1832" stroke="#f07020"/><line x1="2910" y1="1885" x2="2910" y2="1720" stroke="#f09020"/><line x1="2924" y1="1885" x2="2924" y2="1805" stroke="#f0b020"/>
<line x1="2937" y1="1885" x2="2937" y2="1793" stroke="#e8d020"/><line x1="2950" y1="1885" x2="2950" y2="1781" stroke="#c8e020"/><line x1="2964" y1="1885" x2="2964" y2="1771" stroke="#90e020"/>
<line x1="2977" y1="1885" x2="2977" y2="1763" stroke="#60e020"/><line x1="2990" y1="1885" x2="2990" y2="1735" stroke="#40e030"/><line x1="3004" y1="1885" x2="3004" y2="1759" stroke="#30e060"/>
<line x1="3017" y1="1885" x2="3017" y2="1761" stroke="#20e0a0"/><line x1="3030" y1="1885" x2="3030" y2="1765" stroke="#20e0d0"/><line x1="3044" y1="1885" x2="3044" y2="1771" stroke="#20d0e8"/>
<line x1="3057" y1="1885" x2="3057" y2="1781" stroke="#20b0e8"/><line x1="3070" y1="1885" x2="3070" y2="1793" stroke="#2090e8"/><line x1="3084" y1="1885" x2="3084" y2="1805" stroke="#2070e8"/>
<line x1="3097" y1="1885" x2="3097" y2="1720" stroke="#2040e8"/><line x1="3110" y1="1885" x2="3110" y2="1832" stroke="#3030e0"/><line x1="3124" y1="1885" x2="3124" y2="1847" stroke="#5030e0"/>
<line x1="3137" y1="1885" x2="3137" y2="1860" stroke="#7030e0"/><line x1="3149" y1="1885" x2="3149" y2="1873" stroke="#9030e0"/>
</g>
<rect x="3205" y="1856" width="53" height="62" fill="#d8b440" stroke="#a08020" stroke-width="2"/>
<polygon points="3222,1900 3240,1900 3231,1882" fill="#222"/><line x1="3231" y1="1875" x2="3231" y2="1910" stroke="#222" stroke-width="2"/>
<path d="M3268,1887 Q3272,1865 3276,1887 T3284,1887 T3292,1887 T3300,1887 T3308,1887 T3316,1887 T3324,1887 T3332,1887" fill="none" stroke="#e01010" stroke-width="3"/>
<g class="ss" font-size="21" text-anchor="middle"><text x="3293" y="1834">300 GHz</text><text x="3293" y="1857">wave</text></g>
<text x="2825" y="2008" class="sf" font-size="52" text-anchor="middle" textLength="634">Optical frequency division</text>
</svg>
</body></html>
